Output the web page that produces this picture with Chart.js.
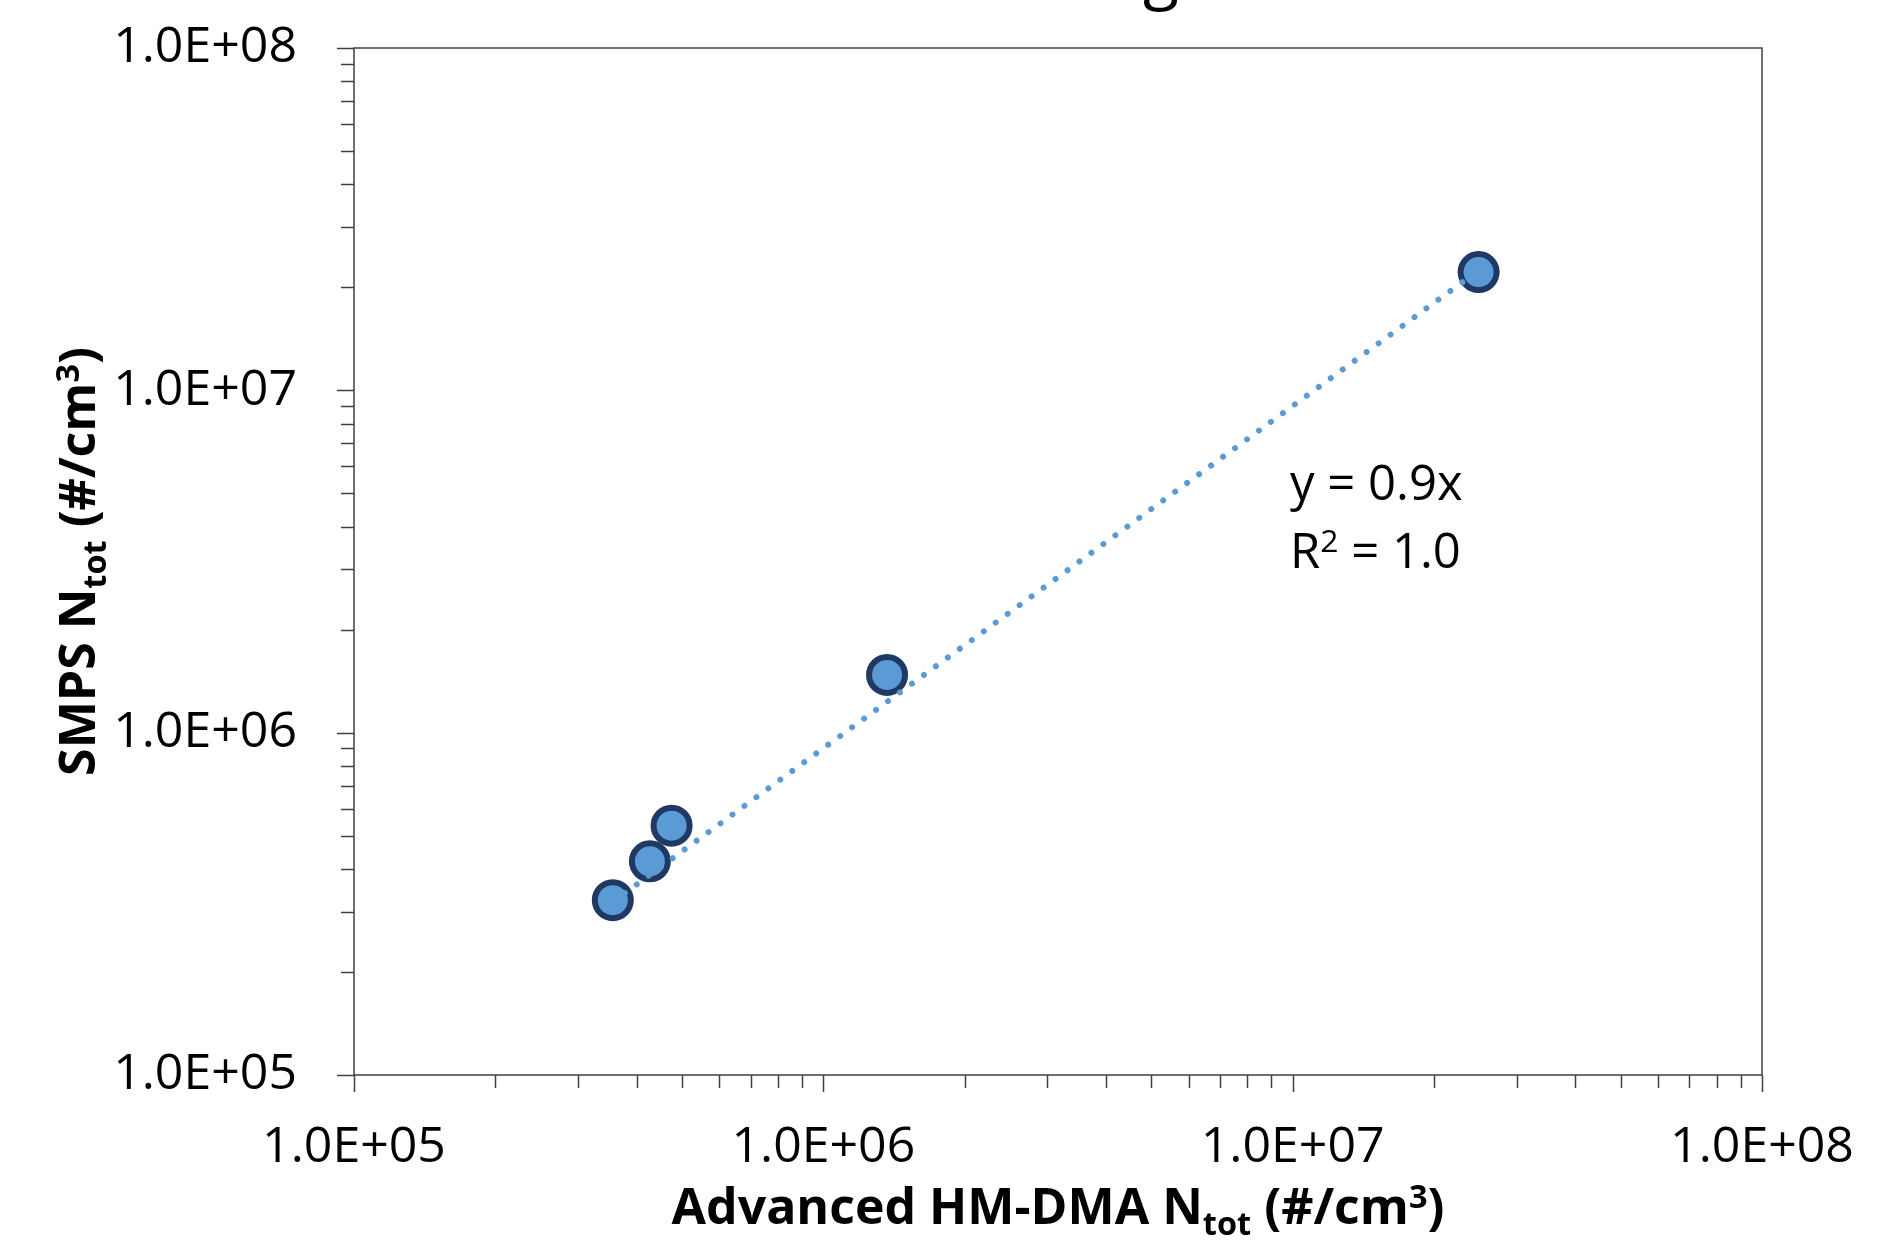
<!DOCTYPE html>
<html>
<head>
<meta charset="utf-8">
<script src="https://cdn.jsdelivr.net/npm/chart.js@4.4.1/dist/chart.umd.min.js"></script>
<style>
  html, body { margin: 0; padding: 0; background: #fff; }
  #wrap { width: 1883px; height: 1242px; }
</style>
</head>
<body>
<div id="wrap"><canvas id="chart" width="1883" height="1242"></canvas></div>
<script>
// Values (log-log scatter, #/cm3)
const hmDma = [3.56e5, 4.27e5, 4.75e5, 1.367e6, 2.49e7];
const smps = [3.24e5, 4.21e5, 5.35e5, 1.475e6, 2.215e7];
const trendSlope = 0.9;
const decades = [1e5, 1e6, 1e7, 1e8];
const tickLabels = ['1.0E+05', '1.0E+06', '1.0E+07', '1.0E+08'];

// axis titles and trendline label, split into normal / sub / sup runs
const xTitle = [['Advanced HM-DMA N', 'n'], ['tot', 'sub'], [' (#/cm', 'n'], ['3', 'sup'], [')', 'n']];
const yTitle = [['SMPS N', 'n'], ['tot', 'sub'], [' (#/cm', 'n'], ['3', 'sup'], [')', 'n']];
const eqLine1 = [['y = 0.9x', 'n']];
const eqLine2 = [['R', 'n'], ['2', 'sup'], [' = 1.0', 'n']];

const FONT = "'Open Sans', sans-serif";
const AXIS_COLOR = '#404040';

// minor + major tick values: 1..9 x each decade
const tickValues = [];
decades.forEach((d, i) => {
    if (i === decades.length - 1) { tickValues.push(d); return; }
    for (let k = 1; k <= 9; k++) tickValues.push(k * d);
});

const points = hmDma.map((x, i) => ({ x: x, y: smps[i] }));
const xMin = Math.min(...hmDma), xMax = Math.max(...hmDma);
const trendPts = [{ x: xMin, y: trendSlope * xMin }, { x: xMax, y: trendSlope * xMax }];

function isDecade(v) {
    return decades.some(d => Math.abs(v - d) / d < 1e-9);
}

// draw a run list (normal/sub/sup) starting at x, baseline y
function richWidth(ctx, parts, size, weight) {
    let w = 0;
    parts.forEach(([t, s]) => {
        const fs = s === 'n' ? size : size * 0.65;
        ctx.font = weight + ' ' + fs + 'px ' + FONT;
        w += ctx.measureText(t).width;
    });
    return w;
}
function drawRich(ctx, parts, x, y, size, weight) {
    parts.forEach(([t, s]) => {
        const fs = s === 'n' ? size : size * 0.65;
        ctx.font = weight + ' ' + fs + 'px ' + FONT;
        let dy = 0;
        if (s === 'sub') dy = size * 0.22;
        if (s === 'sup') dy = -size * 0.32;
        ctx.fillText(t, x, y + dy);
        x += ctx.measureText(t).width;
    });
}

const decorPlugin = {
    id: 'decor',
    afterDraw(chart) {
        const ctx = chart.ctx;
        const area = chart.chartArea;
        const xs = chart.scales.x, ys = chart.scales.y;
        ctx.save();

        // plot frame
        ctx.strokeStyle = AXIS_COLOR;
        ctx.lineWidth = 1.5;
        ctx.strokeRect(area.left, area.top, area.right - area.left, area.bottom - area.top);

        // tick marks outside the plot
        ctx.beginPath();
        tickValues.forEach(v => {
            const len = isDecade(v) ? 17 : 13;
            const px = Math.round(xs.getPixelForValue(v)) + 0.5;
            ctx.moveTo(px, area.bottom);
            ctx.lineTo(px, area.bottom + len);
            const py = Math.round(ys.getPixelForValue(v)) + 0.5;
            ctx.moveTo(area.left, py);
            ctx.lineTo(area.left - len, py);
        });
        ctx.stroke();

        ctx.fillStyle = '#000';
        ctx.textBaseline = 'alphabetic';
        ctx.textAlign = 'left';

        // x title, centred under the plot
        const tSize = 50;
        const xw = richWidth(ctx, xTitle, tSize, 'bold');
        drawRich(ctx, xTitle, (area.left + area.right) / 2 - xw / 2, 1224, tSize, 'bold');

        // y title, rotated
        const yw = richWidth(ctx, yTitle, tSize, 'bold');
        ctx.save();
        ctx.translate(95, (area.top + area.bottom) / 2);
        ctx.rotate(-Math.PI / 2);
        drawRich(ctx, yTitle, -yw / 2, 0, tSize, 'bold');
        ctx.restore();

        // trendline equation
        drawRich(ctx, eqLine1, 1290, 500, 49, 'normal');
        drawRich(ctx, eqLine2, 1290, 568, 49, 'normal');

        // chart title is cut off at the top edge, only the descender shows
        ctx.font = 'normal 66px ' + FONT;
        ctx.textAlign = 'center';
        ctx.fillText('g', 1161, -4);

        ctx.restore();
    }
};

// label offset comes from an invisible tick mark, so ticks.padding stays small
// (Chart.js adds ticks.padding to the edge overflow of the chart area)
const logAxis = (axisId) => ({
    type: 'logarithmic',
    min: decades[0],
    max: decades[decades.length - 1],
    afterBuildTicks: (scale) => {
        scale.ticks = tickValues.map(v => ({ value: v, major: isDecade(v) }));
    },
    afterFit: (scale) => {
        if (axisId === 'x') scale.height = 167;
        else scale.width = 354;
    },
    grid: {
        display: true,
        drawOnChartArea: false,
        drawTicks: true,
        tickLength: axisId === 'x' ? 36 : 50,
        tickColor: 'rgba(0,0,0,0)'
    },
    border: { display: false },
    ticks: {
        autoSkip: false,
        maxRotation: 0,
        color: '#000',
        padding: 7,
        font: { family: FONT, size: 50 },
        callback: (value) => {
            const i = decades.findIndex(d => Math.abs(value - d) / d < 1e-9);
            return i >= 0 ? tickLabels[i] : '';
        }
    }
});

new Chart(document.getElementById('chart'), {
    type: 'scatter',
    data: {
        datasets: [
            {
                type: 'line',
                data: trendPts,
                borderColor: '#5B9BD5',
                borderWidth: 6,
                borderDash: [0.01, 14.8],
                borderCapStyle: 'round',
                pointRadius: 0,
                fill: false,
                order: 0
            },
            {
                data: points,
                backgroundColor: '#5B9BD5',
                borderColor: '#1F3864',
                borderWidth: 6,
                pointRadius: 18,
                pointHoverRadius: 18,
                order: 1
            }
        ]
    },
    options: {
        responsive: false,
        animation: false,
        devicePixelRatio: 1,
        layout: { padding: { top: 48, right: 121, left: 0, bottom: 0 } },
        plugins: {
            legend: { display: false },
            tooltip: { enabled: false },
            title: { display: false }
        },
        scales: {
            x: logAxis('x'),
            y: logAxis('y')
        }
    },
    plugins: [decorPlugin]
});
</script>
</body>
</html>
